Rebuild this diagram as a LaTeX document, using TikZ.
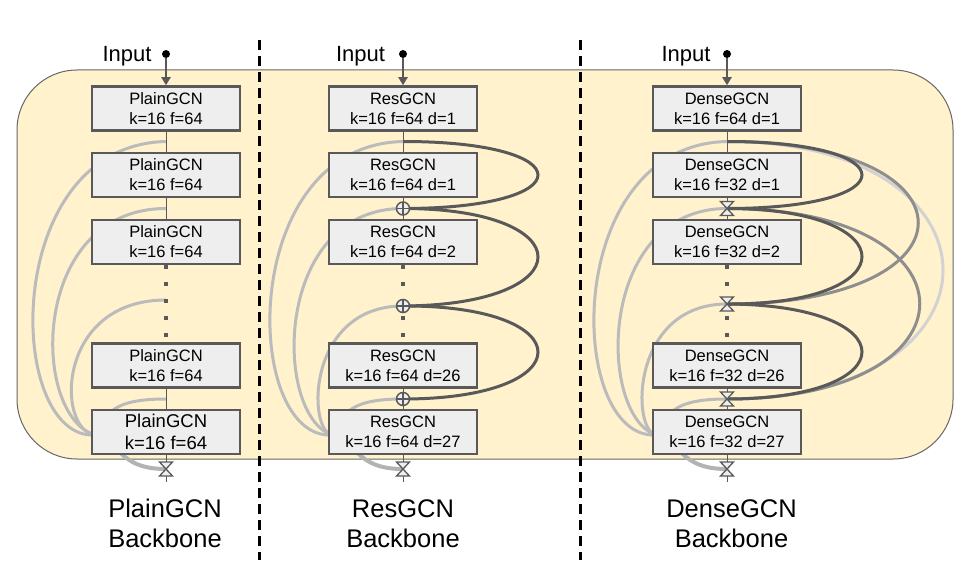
\documentclass[tikz,border=0pt]{standalone}
\usepackage{fontspec}
\setmainfont{Liberation Sans}
\usetikzlibrary{arrows.meta}
\definecolor{bgfill}{HTML}{FFF2CC}
\definecolor{bgdraw}{HTML}{666666}
\definecolor{boxfill}{HTML}{EEEEEE}
\definecolor{dk}{HTML}{595959}
\definecolor{lgrey}{HTML}{BBBBBB}
\definecolor{mgrey}{HTML}{8E8E8E}
\definecolor{vlgrey}{HTML}{D2D2D2}
\definecolor{ogrey}{HTML}{B3B3B3}
\tikzset{
  hourglass/.pic={\draw[fill=boxfill, draw=dk, line width=1.3pt, line join=miter]
    (-6.5,-7) -- (6.5,-7) -- (-6.5,7) -- (6.5,7) -- cycle;}
}
\begin{document}
\begin{tikzpicture}[x=1pt,y=-1pt,
  gcn/.style={draw=dk, fill=boxfill, line width=2.5pt, minimum width=148pt,
    minimum height=44pt, inner sep=0pt, align=center,
    font=\fontsize{16.5pt}{20pt}\selectfont},
  gcnbig/.style={gcn, font=\fontsize{18.5pt}{22pt}\selectfont},
  link/.style={draw=dk, line width=1pt},
  dotline/.style={draw=dk, line width=4pt, dash pattern=on 4pt off 13pt},
  skiparc/.style={draw=lgrey, line width=3pt},
  outarc/.style={draw=ogrey, line width=4pt},
  resloop/.style={draw=dk, line width=3pt},
  midloop/.style={draw=mgrey, line width=3pt},
  farloop/.style={draw=vlgrey, line width=3pt},
  bgbox/.style={fill=bgfill, draw=bgdraw, line width=1pt, rounded corners=60pt},
  sepline/.style={draw=black, line width=3pt, dash pattern=on 10pt off 6pt},
  oplus/.style={circle, draw=dk, fill=boxfill, line width=1.5pt, minimum size=13pt,
    inner sep=0pt, path picture={\draw[dk, line width=1.2pt]
      (path picture bounding box.north) -- (path picture bounding box.south)
      (path picture bounding box.west) -- (path picture bounding box.east);}},
  indot/.style={circle, fill=black, minimum size=8pt, inner sep=0pt},
  inlab/.style={font=\fontsize{22pt}{26pt}\selectfont, anchor=base, inner sep=0pt},
  bblab/.style={font=\fontsize{25.5pt}{30pt}\selectfont, anchor=base, inner sep=0pt},
  arr/.style={draw=dk, line width=2pt, -{Triangle[width=9pt,length=8pt]}}
]
\useasboundingbox (0,0) rectangle (979,585);
\fill[white] (0,0) rectangle (979,585);
\draw[bgbox] (17,70) rectangle (953,459);

% named points of each column
\foreach \cx/\nm/\yj in {166/p/300, 403/r/306, 727/d/304} {
  \coordinate (\nm g) at (\cx,141.5);
  \coordinate (\nm j1) at (\cx,208.5);
  \coordinate (\nm j2) at (\cx,\yj);
  \coordinate (\nm j3) at (\cx,399);
  \coordinate (\nm tgt) at ({\cx-71},435);
  \coordinate (\nm tgtb) at ({\cx-62},422);
  \coordinate (\nm ost) at ({\cx-55},440);
  \coordinate (\nm out) at (\cx,469);
  \coordinate (\nm end) at (\cx,482);
}

% light grey skip arcs on the left
\foreach \cx/\nm/\ctwo/\cthree/\yj in {166/p/136/110/300, 403/r/130/96/306, 727/d/130/96/304} {
  \draw[skiparc] (\nm g) .. controls ({\cx-166},145) and ({\cx-161},440) .. (\nm tgt);
  \draw[skiparc] (\nm j1) .. controls ({\cx-\ctwo},208.5) and ({\cx-\ctwo},415) .. (\nm tgt);
  \draw[skiparc] (\nm j2) .. controls ({\cx-\cthree},\yj) and ({\cx-\cthree},430) .. (\nm tgt);
  \draw[skiparc] (\nm j3) .. controls ({\cx-35},399) and ({\cx-55},405) .. (\nm tgtb);
  \draw[outarc] (\nm ost) .. controls ({\cx-42},462) and ({\cx-25},469) .. (\nm out);
}

% dense long connections
\draw[farloop] (dg) .. controls (1015,141.5) and (1015,399) .. (dj3);
\draw[midloop] (dg) .. controls (982,141.5) and (982,304) .. (dj2);
\draw[midloop] (dj1) .. controls (984,208.5) and (984,399) .. (dj3);

% residual / dense short loops
\foreach \cx/\nm in {403/r, 727/d} {
  \draw[resloop] (\nm g) .. controls ({\cx+180},141.5) and ({\cx+180},208.5) .. (\nm j1);
  \draw[resloop] (\nm j1) .. controls ({\cx+180},208.5) and ({\cx+180},\cx/\cx*305) .. (\nm j2);
  \draw[resloop] (\nm j2) .. controls ({\cx+180},305) and ({\cx+180},399) .. (\nm j3);
}

% PlainGCN column
\node[gcn] (p1) at (166,108.5) {PlainGCN\\k=16 f=64};
\node[gcn] (p2) at (166,175) {PlainGCN\\k=16 f=64};
\node[gcn] (p3) at (166,242) {PlainGCN\\k=16 f=64};
\node[gcn] (p4) at (166,365.5) {PlainGCN\\k=16 f=64};
\node[gcnbig] (p5) at (166,432) {PlainGCN\\k=16 f=64};

% ResGCN column
\node[gcn] (r1) at (403,108.5) {ResGCN\\k=16 f=64 d=1};
\node[gcn] (r2) at (403,175) {ResGCN\\k=16 f=64 d=1};
\node[gcn] (r3) at (403,242) {ResGCN\\k=16 f=64 d=2};
\node[gcn] (r4) at (403,365.5) {ResGCN\\k=16 f=64 d=26};
\node[gcn] (r5) at (403,432) {ResGCN\\k=16 f=64 d=27};

% DenseGCN column
\node[gcn] (d1) at (727,108.5) {DenseGCN\\k=16 f=64 d=1};
\node[gcn] (d2) at (727,175) {DenseGCN\\k=16 f=32 d=1};
\node[gcn] (d3) at (727,242) {DenseGCN\\k=16 f=32 d=2};
\node[gcn] (d4) at (727,365.5) {DenseGCN\\k=16 f=32 d=26};
\node[gcn] (d5) at (727,432) {DenseGCN\\k=16 f=32 d=27};

% vertical links
\foreach \nm in {p,r,d} {
  \draw[link] (\nm 1.south) -- (\nm 2.north);
  \draw[link] (\nm 2.south) -- (\nm 3.north);
  \draw[dotline] (\nm 3.south) -- (\nm 4.north);
  \draw[link] (\nm 4.south) -- (\nm 5.north);
  \draw[link] (\nm 5.south) -- (\nm end);
}

% junction symbols
\node[oplus] (rplus1) at (rj1) {};
\node[oplus] (rplus2) at (rj2) {};
\node[oplus] (rplus3) at (rj3) {};
\pic at (dj1) {hourglass};
\pic at (dj2) {hourglass};
\pic at (dj3) {hourglass};
\pic at (pout) {hourglass};
\pic at (rout) {hourglass};
\pic at (dout) {hourglass};

% separators
\draw[sepline] (259,40) -- (259,560);
\draw[sepline] (580,40) -- (580,560);

% inputs
\node[inlab] (pinlab) at (127,62) {Input};
\node[inlab] (rinlab) at (360.5,62) {Input};
\node[inlab] (dinlab) at (686,62) {Input};
\node[indot] (pin) at (166,54) {};
\node[indot] (rin) at (403,54) {};
\node[indot] (din) at (727,54) {};
\draw[arr] (pin) -- (p1);
\draw[arr] (rin) -- (r1);
\draw[arr] (din) -- (d1);

% backbone labels
\node[bblab] (pbb1) at (165,517) {PlainGCN};
\node[bblab] (pbb2) at (165,547) {Backbone};
\node[bblab] (rbb1) at (403,517) {ResGCN};
\node[bblab] (rbb2) at (403,547) {Backbone};
\node[bblab] (dbb1) at (731.5,517) {DenseGCN};
\node[bblab] (dbb2) at (731.5,547) {Backbone};
\end{tikzpicture}
\end{document}
